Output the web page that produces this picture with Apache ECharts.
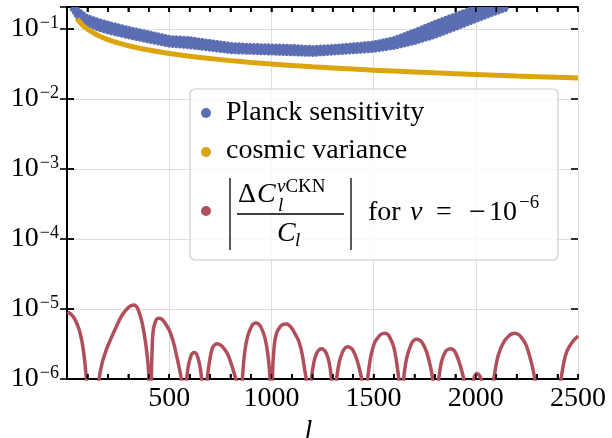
<!DOCTYPE html>
<html><head><meta charset="utf-8">
<script src="https://cdn.jsdelivr.net/npm/echarts@6/dist/echarts.min.js"></script>
<style>html,body{margin:0;padding:0;background:#fff}#c{width:612px;height:438px}</style>
</head><body><div id="c"></div>
<script>
// ---- data ----
const xTickValues = [0, 100, 200, 300, 400, 500, 600, 700, 800, 900, 1000, 1100, 1200, 1300, 1400, 1500, 1600, 1700, 1800, 1900, 2000, 2100, 2200, 2300, 2400, 2500];
const xTickLabels = [500, 1000, 1500, 2000, 2500];
const yTickValues = [1e-6, 1e-5, 1e-4, 1e-3, 1e-2, 1e-1];
const yTickExps = ['−6', '−5', '−4', '−3', '−2', '−1'];
const seriesNames = ['Planck sensitivity', 'cosmic variance', '|ΔC_l^νCKN / C_l| for ν = −10^−6'];

// Planck sensitivity: scatter band, lower / upper envelope of the points
const planckL  = [20, 35, 50, 75, 100, 150, 200, 300, 400, 500, 600, 700, 800, 900, 1000, 1100, 1200, 1300, 1400, 1500, 1600, 1700, 1800, 1900, 2000, 2100, 2160];
const planckLo = [0.19, 0.165, 0.14, 0.125, 0.112, 0.097, 0.088, 0.075, 0.065, 0.057, 0.054, 0.05, 0.046, 0.045, 0.044, 0.043, 0.042, 0.044, 0.046, 0.048, 0.053, 0.062, 0.076, 0.098, 0.128, 0.165, 0.19];
const planckHi = [0.26, 0.24, 0.2, 0.175, 0.155, 0.138, 0.125, 0.105, 0.091, 0.078, 0.075, 0.068, 0.062, 0.06, 0.059, 0.058, 0.056, 0.058, 0.061, 0.065, 0.075, 0.097, 0.128, 0.165, 0.21, 0.25, 0.27];

// cosmic variance
const cosmicL = [50, 60, 70, 80, 100, 125, 150, 200, 250, 300, 400, 500, 600, 700, 800, 900, 1000, 1200, 1400, 1600, 1800, 2000, 2200, 2400, 2500];
const cosmicV = [0.140, 0.128, 0.119, 0.111, 0.0998, 0.0893, 0.0815, 0.0706, 0.0632, 0.0577, 0.05, 0.0447, 0.0408, 0.0378, 0.0353, 0.0333, 0.0316, 0.0289, 0.0267, 0.025, 0.0236, 0.0224, 0.0213, 0.0204, 0.02];

// |ΔC/C| for nu = -1e-6  ([l, value])
const cknData = [
 [2,9.1e-6],[20,8.4e-6],[40,7.0e-6],[60,5.0e-6],[75,3.2e-6],[85,2.0e-6],[95,1.0e-6],[105,4.5e-7],[115,1.5e-7],[125,1e-8],
 [140,3e-7],[157,1e-6],[172,1.7e-6],[190,2.5e-6],[206,3.3e-6],[240,5.5e-6],[270,8.2e-6],[300,1.05e-5],[315,1.12e-5],[328,1.14e-5],[340,1.08e-5],[350,9.5e-6],[368,6.3e-6],[387,2.9e-6],[400,1.1e-6],[408,1e-8],
 [413,1e-6],[417,3e-6],[423,5.2e-6],[435,6.9e-6],[443,7.3e-6],[451,7.4e-6],[462,7.2e-6],[475,6.6e-6],[500,5e-6],[520,3.4e-6],[534,2.3e-6],[550,1.4e-6],[559,1e-6],[565,5e-7],[571,1e-8],
 [580,7e-7],[585,1e-6],[595,1.6e-6],[608,2.2e-6],[615,2.35e-6],[622,2.4e-6],[629,2.35e-6],[636,2.2e-6],[649,1.6e-6],[659,1e-6],[665,6e-7],[673,1e-8],
 [680,4e-7],[686,1e-6],[700,2e-6],[712,2.8e-6],[724,3.1e-6],[735,3.2e-6],[747,3.1e-6],[760,2.9e-6],[785,2.3e-6],[805,1.6e-6],[820,1.15e-6],[829,9e-7],[836,5e-7],[843,1e-8],
 [852,4e-7],[858,1e-6],[870,2.5e-6],[885,4.2e-6],[905,5.8e-6],[915,6.2e-6],[926,6.3e-6],[937,6.1e-6],[948,5.6e-6],[968,3.9e-6],[983,2.2e-6],[993,1e-6],[1000,1e-8],
 [1005,1e-6],[1013,2.8e-6],[1025,4.5e-6],[1045,5.7e-6],[1060,6.05e-6],[1073,6.1e-6],[1086,5.9e-6],[1100,5.3e-6],[1120,4.2e-6],[1135,3.4e-6],[1150,2.3e-6],[1162,1.4e-6],[1170,1e-6],[1178,4e-7],[1184,1e-8],
 [1190,5e-7],[1196,1e-6],[1208,1.75e-6],[1222,2.35e-6],[1234,2.62e-6],[1245,2.7e-6],[1256,2.62e-6],[1268,2.35e-6],[1282,1.75e-6],[1294,1e-6],[1300,5e-7],[1306,1e-8],
 [1313,5e-7],[1319,1e-6],[1333,1.8e-6],[1350,2.5e-6],[1362,2.8e-6],[1373,2.9e-6],[1385,2.82e-6],[1398,2.6e-6],[1418,1.9e-6],[1433,1.3e-6],[1441,1e-6],[1449,5e-7],[1456,1e-8],
 [1464,5e-7],[1471,1e-6],[1485,2e-6],[1505,3.3e-6],[1530,4.2e-6],[1542,4.43e-6],[1554,4.5e-6],[1566,4.4e-6],[1578,4e-6],[1598,2.9e-6],[1613,1.7e-6],[1623,1e-6],[1629,5e-7],[1635,1e-8],
 [1641,5e-7],[1647,1e-6],[1662,2e-6],[1685,3.2e-6],[1698,3.6e-6],[1711,3.7e-6],[1724,3.6e-6],[1738,3.3e-6],[1760,2.4e-6],[1778,1.5e-6],[1789,1e-6],[1797,5e-7],[1804,1e-8],
 [1812,5e-7],[1819,1e-6],[1833,1.8e-6],[1853,2.5e-6],[1865,2.65e-6],[1877,2.7e-6],[1889,2.62e-6],[1900,2.4e-6],[1920,1.7e-6],[1933,1.25e-6],[1941,1e-6],[1952,5e-7],[1965,1e-8],
 [1980,6e-7],[1990,1e-6],[2005,1.2e-6],[2020,1.1e-6],[2030,9e-7],[2040,5e-7],[2050,1e-8],
 [2070,4e-7],[2088,1e-6],[2110,2.2e-6],[2140,3.5e-6],[2165,4.2e-6],[2178,4.43e-6],[2191,4.5e-6],[2204,4.4e-6],[2218,4.1e-6],[2245,3.1e-6],[2270,1.8e-6],[2289,1e-6],[2310,4e-7],[2340,1e-8],
 [2380,1e-8],[2400,4e-7],[2417,1e-6],[2432,1.8e-6],[2446,2.5e-6],[2470,3.3e-6],[2500,4.1e-6]
];

// ---- styling ----
const BLUE = '#5b6db3', YELLOW = '#dca50e', RED = '#b04f5b';
const FONT = 'Liberation Serif';
const GRID = '#dedede', NONE = 'rgba(0,0,0,0)';

const planckBand = planckL.map((l, i) => [l, planckLo[i], planckHi[i]]);
const cosmicData = cosmicL.map((l, i) => [l, cosmicV[i]]);
const xTickData = xTickValues.map(v => [v, 1e-3]);
const yTickData = yTickValues.map(v => [1000, v]);

function yLabel(v) {
  for (let i = 0; i < yTickValues.length; i++) {
    if (Math.abs(v / yTickValues[i] - 1) < 1e-6) return '{b|10}{s|' + yTickExps[i] + '}';
  }
  return '';
}

function renderBand(params, api) {
  if (params.dataIndex !== 0) return null;
  const lo = [], hi = [];
  for (let i = 0; i < planckBand.length; i++) {
    lo.push(api.coord([planckBand[i][0], planckBand[i][1]]));
    hi.push(api.coord([planckBand[i][0], planckBand[i][2]]));
  }
  const poly = lo.concat(hi.slice().reverse());
  const cs = params.coordSys;
  const edge = { stroke: BLUE, lineWidth: 3.2, lineDash: [0.5, 3.2], lineCap: 'round', fill: null };
  return {
    type: 'group',
    clipPath: { type: 'rect', shape: { x: cs.x, y: cs.y, width: cs.width, height: cs.height } },
    children: [
      { type: 'polygon', shape: { points: poly, smooth: 0 }, style: { fill: BLUE } },
      { type: 'polyline', shape: { points: lo }, style: edge },
      { type: 'polyline', shape: { points: hi }, style: edge }
    ]
  };
}

// inward tick marks on all four sides, placed through the axis scales
function renderXTick(params, api) {
  const cs = params.coordSys;
  const x = api.coord([api.value(0), api.value(1)])[0];
  const st = { stroke: '#000', lineWidth: 1.6 };
  return { type: 'group', children: [
    { type: 'line', shape: { x1: x, y1: cs.y + cs.height, x2: x, y2: cs.y + cs.height - 5 }, style: st },
    { type: 'line', shape: { x1: x, y1: cs.y, x2: x, y2: cs.y + 5 }, style: st }
  ] };
}
function renderYTick(params, api) {
  const cs = params.coordSys;
  const y = api.coord([api.value(0), api.value(1)])[1];
  const st = { stroke: '#000', lineWidth: 1.6 };
  return { type: 'group', children: [
    { type: 'line', shape: { x1: cs.x, y1: y, x2: cs.x + 7, y2: y }, style: st },
    { type: 'line', shape: { x1: cs.x + cs.width, y1: y, x2: cs.x + cs.width - 7, y2: y }, style: st }
  ] };
}

const chart = echarts.init(document.getElementById('c'));
chart.setOption({
  animation: false,
  grid: { left: 67, right: 34, top: 7, bottom: 59, outerBoundsMode: 'none' },
  xAxis: [{
    type: 'value', min: 0, max: 2500, interval: 100, position: 'bottom',
    axisLine: { show: true, lineStyle: { color: '#000', width: 1.8 } },
    axisTick: { show: true, inside: true, length: 5, lineStyle: { color: '#000', width: 1.6 } },
    axisLabel: {
      margin: 6, color: '#000', fontFamily: FONT, fontSize: 28,
      formatter: v => (xTickLabels.indexOf(v) >= 0 ? String(v) : '')
    },
    splitLine: { show: true, lineStyle: { color: [GRID, NONE, NONE, NONE, NONE], width: 1 } },
    name: 'l', nameLocation: 'middle', nameGap: 37,
    nameTextStyle: { fontFamily: FONT, fontStyle: 'italic', fontSize: 28, color: '#000', padding: [0, 28, 0, 0] }
  }, {
    type: 'value', min: 0, max: 2500, interval: 100, position: 'top',
    axisLine: { show: true, lineStyle: { color: '#000', width: 1.8 } },
    axisTick: { show: true, inside: true, length: 5, lineStyle: { color: '#000', width: 1.6 } },
    axisLabel: { show: false }, splitLine: { show: false }
  }],
  yAxis: [{
    type: 'log', logBase: 10, min: 1e-6, max: 0.206, position: 'left',
    axisLine: { show: true, lineStyle: { color: '#000', width: 1.8 } },
    axisTick: { show: true, inside: true, length: 7, lineStyle: { color: '#000', width: 1.6 } },
    axisLabel: {
      margin: 8, color: '#000', formatter: yLabel,
      rich: {
        b: { fontFamily: FONT, fontSize: 28, color: '#000', lineHeight: 30 },
        s: { fontFamily: FONT, fontSize: 18, color: '#000', verticalAlign: 'top', padding: [0, 0, 0, 1] }
      }
    },
    splitLine: { show: true, lineStyle: { color: GRID, width: 1 } }
  }, {
    type: 'log', logBase: 10, min: 1e-6, max: 0.206, position: 'right',
    axisLine: { show: true, lineStyle: { color: '#000', width: 1.8 } },
    axisTick: { show: true, inside: true, length: 7, lineStyle: { color: '#000', width: 1.6 } },
    axisLabel: { show: false }, splitLine: { show: false }
  }],
  series: [
    {
      name: seriesNames[0], type: 'custom', data: planckBand, renderItem: renderBand,
      encode: { x: 0, y: 1 }, z: 3, silent: true
    },
    {
      name: seriesNames[1], type: 'line', data: cosmicData, symbol: 'none', smooth: 0.4, clip: true, z: 4,
      lineStyle: { color: YELLOW, width: 5 }
    },
    {
      name: seriesNames[2], type: 'line', data: cknData, symbol: 'none', smooth: 0.35, clip: true, z: 4,
      lineStyle: { color: RED, width: 3.5 }
    },
    { name: 'x ticks', type: 'custom', data: xTickData, renderItem: renderXTick, encode: { x: 0, y: 1 }, z: 6, silent: true },
    { name: 'y ticks', type: 'custom', data: yTickData, renderItem: renderYTick, encode: { x: 0, y: 1 }, z: 6, silent: true }
  ],
  graphic: [
    { type: 'rect', z: 100, shape: { x: 190, y: 89, width: 368, height: 171, r: 5 },
      style: { fill: 'rgba(255,255,255,0.82)', stroke: '#cccccc', lineWidth: 1.2 } },
    { type: 'circle', z: 101, shape: { cx: 206, cy: 113, r: 5 }, style: { fill: BLUE } },
    { type: 'text', z: 101, x: 226, y: 113, style: { text: 'Planck sensitivity', font: '28px "Liberation Serif"', fill: '#000', verticalAlign: 'middle' } },
    { type: 'circle', z: 101, shape: { cx: 206, cy: 152, r: 5 }, style: { fill: YELLOW } },
    { type: 'text', z: 101, x: 226, y: 151, style: { text: 'cosmic variance', font: '28px "Liberation Serif"', fill: '#000', verticalAlign: 'middle' } },
    { type: 'circle', z: 101, shape: { cx: 206, cy: 211, r: 5 }, style: { fill: RED } },
    { type: 'line', z: 101, shape: { x1: 230, y1: 178, x2: 230, y2: 250 }, style: { stroke: '#000', lineWidth: 1.3 } },
    { type: 'line', z: 101, shape: { x1: 351, y1: 178, x2: 351, y2: 250 }, style: { stroke: '#000', lineWidth: 1.3 } },
    { type: 'line', z: 101, shape: { x1: 237, y1: 214, x2: 344, y2: 214 }, style: { stroke: '#000', lineWidth: 1.3 } },
    { type: 'text', z: 101, x: 238, y: 195, style: { text: 'Δ', font: '28px "Liberation Serif"', fill: '#000', verticalAlign: 'middle' } },
    { type: 'text', z: 101, x: 257, y: 195, style: { text: 'C', font: 'italic 28px "Liberation Serif"', fill: '#000', verticalAlign: 'middle' } },
    { type: 'text', z: 101, x: 277, y: 187, style: { text: '{i|ν}{r|CKN}', fill: '#000', verticalAlign: 'middle',
        rich: { i: { fontFamily: FONT, fontStyle: 'italic', fontSize: 19 }, r: { fontFamily: FONT, fontSize: 19 } } } },
    { type: 'text', z: 101, x: 278, y: 206, style: { text: 'l', font: 'italic 19px "Liberation Serif"', fill: '#000', verticalAlign: 'middle' } },
    { type: 'text', z: 101, x: 277, y: 234, style: { text: 'C', font: 'italic 28px "Liberation Serif"', fill: '#000', verticalAlign: 'middle' } },
    { type: 'text', z: 101, x: 295, y: 241, style: { text: 'l', font: 'italic 19px "Liberation Serif"', fill: '#000', verticalAlign: 'middle' } },
    { type: 'text', z: 101, x: 368, y: 213, style: { text: 'for', font: '28px "Liberation Serif"', fill: '#000', verticalAlign: 'middle' } },
    { type: 'text', z: 101, x: 410, y: 213, style: { text: 'ν', font: 'italic 28px "Liberation Serif"', fill: '#000', verticalAlign: 'middle' } },
    { type: 'text', z: 101, x: 436, y: 213, style: { text: '=', font: '28px "Liberation Serif"', fill: '#000', verticalAlign: 'middle' } },
    { type: 'text', z: 101, x: 469, y: 213, style: { text: '−', font: '30px "Liberation Serif"', fill: '#000', verticalAlign: 'middle' } },
    { type: 'text', z: 101, x: 489, y: 213, style: { text: '10', font: '28px "Liberation Serif"', fill: '#000', verticalAlign: 'middle' } },
    { type: 'text', z: 101, x: 519, y: 203, style: { text: '−6', font: '19px "Liberation Serif"', fill: '#000', verticalAlign: 'middle' } }
  ]
});
</script>
</body></html>
